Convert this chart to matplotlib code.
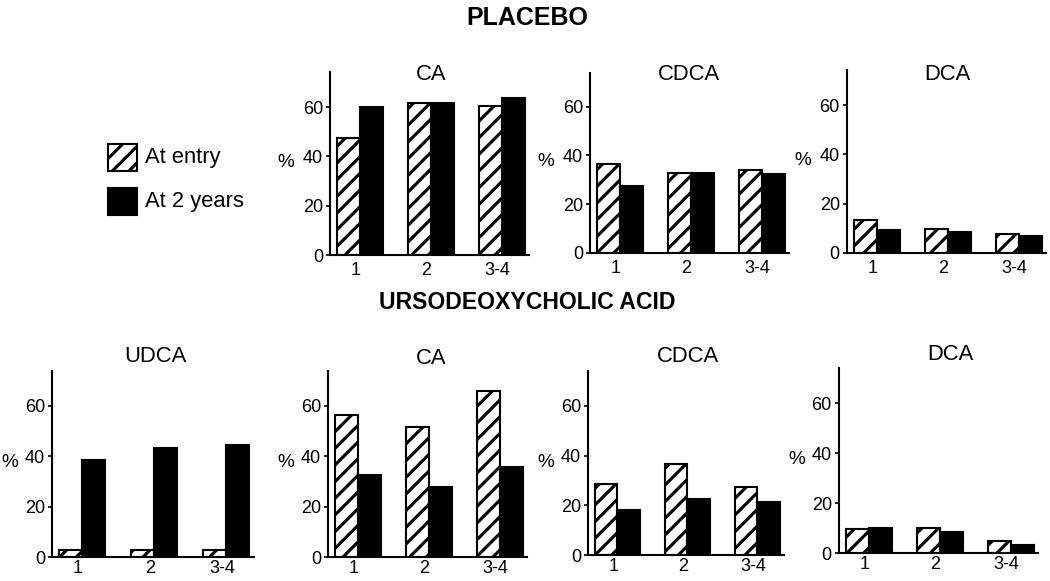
import matplotlib
matplotlib.use("Agg")
import matplotlib.pyplot as plt
from matplotlib.patches import Rectangle
import numpy as np

plt.rcParams['font.family'] = ['Liberation Sans', 'DejaVu Sans']
plt.rcParams['hatch.linewidth'] = 1.5

# ---------------- data ----------------
groups = ["1", "2", "3-4"]
series_names = ["At entry", "At 2 years"]

placebo_titles = ["CA", "CDCA", "DCA"]
placebo_entry = [[47.6, 61.5, 60.6], [36.5, 32.7, 34.0], [13.3, 9.9, 7.6]]
placebo_2yr = [[60.1, 61.8, 63.5], [27.6, 32.7, 32.4], [9.2, 8.5, 6.8]]

udca_titles = ["UDCA", "CA", "CDCA", "DCA"]
udca_entry = [[2.6, 2.6, 2.6], [56.6, 51.8, 65.8], [28.5, 36.8, 27.5], [9.6, 9.9, 4.7]]
udca_2yr = [[38.7, 43.3, 44.6], [32.5, 27.9, 35.8], [18.0, 22.4, 21.3], [9.9, 8.5, 3.2]]

yticks = [0, 20, 40, 60]

# ---------------- layout (pixels) ----------------
W, H, DPI = 1050, 581, 150
PT = 72.0 / DPI  # points per pixel

fig = plt.figure(figsize=(W / DPI, H / DPI), dpi=DPI)

YMAX = 74
XLIM = (-0.42, 2.38)
BW = 0.32
HATCH = '///'


def make_axes(left, zero, y60, spacing):
    h = YMAX / 60.0 * (zero - y60)
    w = (XLIM[1] - XLIM[0]) * spacing
    return fig.add_axes([left / W, 1 - zero / H, w / W, h / H])


def draw_panel(ax, title, entry, two, title_xy, pct_dx, xpad):
    x = np.arange(len(groups))
    ax.bar(x - BW / 2, entry, BW, facecolor='white', edgecolor='black',
           hatch=HATCH, linewidth=1.0)
    ax.bar(x + BW / 2, two, BW, facecolor='black', edgecolor='black',
           linewidth=1.0)
    ax.set_xlim(*XLIM)
    ax.set_ylim(0, YMAX)
    ax.set_yticks(yticks)
    ax.set_xticks(x - 0.06)
    ax.set_xticklabels(groups)
    for s in ['top', 'right']:
        ax.spines[s].set_visible(False)
    for s in ['left', 'bottom']:
        ax.spines[s].set_linewidth(1.0)
    ax.tick_params(axis='y', direction='out', length=4 * PT, width=0.8,
                   labelsize=18 * PT, pad=1.5)
    ax.tick_params(axis='x', length=0, labelsize=18 * PT, pad=xpad)
    ax.set_ylabel("%", rotation=0, fontsize=19 * PT)
    bb = ax.get_position()
    ax.yaxis.set_label_coords(-pct_dx / (bb.width * W), 34 / YMAX)
    fig.text(title_xy[0] / W, 1 - title_xy[1] / H, title, ha='center',
             va='center', fontsize=22 * PT)


# top row: placebo
top_left = [330, 590, 847]
top_zero = [255, 253, 253]
top_y60 = [107, 106.7, 105]
top_title_xy = [(431, 75), (689, 75), (947, 74)]
for i, t in enumerate(placebo_titles):
    ax = make_axes(top_left[i], top_zero[i], top_y60[i], 71)
    draw_panel(ax, t, placebo_entry[i], placebo_2yr[i], top_title_xy[i], 44, 3.5)

# bottom row: UDCA
bot_left = [52, 328, 588, 839]
bot_zero = [557, 557, 555, 553]
bot_y60 = [406, 406, 406, 403]
bot_spacing = [72, 71, 70, 71]
bot_title_xy = [(155, 357), (431, 358), (688, 357), (950, 355)]
for i, t in enumerate(udca_titles):
    ax = make_axes(bot_left[i], bot_zero[i], bot_y60[i], bot_spacing[i])
    draw_panel(ax, t, udca_entry[i], udca_2yr[i], bot_title_xy[i], 42, 1.5)

# headings
fig.text(527 / W, 1 - 18 / H, "PLACEBO", ha='center', va='center',
         fontsize=25 * PT, fontweight='bold')
fig.text(527 / W, 1 - 303 / H, "URSODEOXYCHOLIC ACID", ha='center',
         va='center', fontsize=23 * PT, fontweight='bold')

# legend (figure pixel overlay)
lay = fig.add_axes([0, 0, 1, 1], zorder=-1)
lay.set_xlim(0, W)
lay.set_ylim(H, 0)
lay.axis('off')
lay.add_patch(Rectangle((108, 144), 29, 27, facecolor='white',
                        edgecolor='black', hatch=HATCH, linewidth=1.0))
lay.add_patch(Rectangle((108, 188), 29, 27, facecolor='black',
                        edgecolor='black', linewidth=1.0))
lay.text(145, 158, series_names[0], ha='left', va='center', fontsize=22 * PT)
lay.text(145, 202, series_names[1], ha='left', va='center', fontsize=22 * PT)

fig.savefig("out.png", dpi=DPI)
